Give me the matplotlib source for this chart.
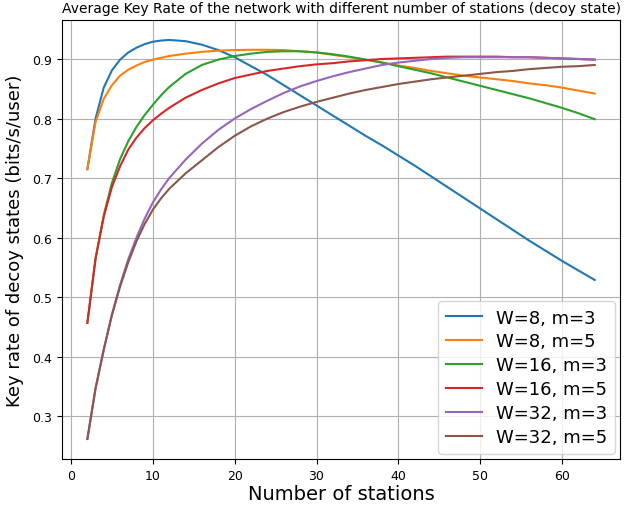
import matplotlib
matplotlib.use("Agg")
import matplotlib.pyplot as plt

stations = [2, 3, 4, 5, 6, 7, 8, 9, 10, 11, 12, 14, 16, 18, 20, 22, 24, 26, 28,
            30, 32, 34, 36, 38, 40, 42, 44, 46, 48, 50, 52, 54, 56, 58, 60, 62, 64]

w8_m3 = [0.715, 0.800, 0.852, 0.881, 0.899, 0.911, 0.919, 0.925, 0.929, 0.931,
         0.932, 0.930, 0.924, 0.915, 0.903, 0.888, 0.873, 0.856, 0.839,
         0.822, 0.805, 0.788, 0.771, 0.755, 0.738, 0.721, 0.703, 0.685, 0.667,
         0.649, 0.631, 0.613, 0.595, 0.578, 0.561, 0.545, 0.529]
w8_m5 = [0.715, 0.794, 0.833, 0.856, 0.872, 0.882, 0.889, 0.895, 0.899, 0.902,
         0.905, 0.909, 0.912, 0.914, 0.915, 0.9155, 0.9155, 0.915, 0.913,
         0.911, 0.907, 0.903, 0.899, 0.894, 0.889, 0.885, 0.880, 0.876, 0.872,
         0.869, 0.866, 0.863, 0.859, 0.856, 0.852, 0.847, 0.842]
w16_m3 = [0.457, 0.565, 0.638, 0.692, 0.732, 0.762, 0.786, 0.806, 0.823, 0.839,
          0.853, 0.875, 0.890, 0.899, 0.905, 0.909, 0.912, 0.913, 0.913,
          0.911, 0.908, 0.904, 0.899, 0.894, 0.888, 0.882, 0.876, 0.869, 0.862,
          0.855, 0.848, 0.841, 0.834, 0.826, 0.818, 0.809, 0.799]
w16_m5 = [0.457, 0.565, 0.635, 0.685, 0.720, 0.748, 0.768, 0.784, 0.797, 0.808,
          0.818, 0.835, 0.848, 0.859, 0.868, 0.874, 0.880, 0.884, 0.888,
          0.891, 0.893, 0.896, 0.898, 0.900, 0.901, 0.902, 0.903, 0.904, 0.904,
          0.904, 0.904, 0.903, 0.903, 0.902, 0.901, 0.900, 0.899]
w32_m3 = [0.262, 0.347, 0.412, 0.471, 0.521, 0.564, 0.600, 0.632, 0.659, 0.681,
          0.700, 0.731, 0.758, 0.781, 0.800, 0.816, 0.830, 0.843, 0.854,
          0.863, 0.871, 0.878, 0.884, 0.890, 0.894, 0.897, 0.900, 0.902, 0.903,
          0.903, 0.903, 0.903, 0.903, 0.902, 0.901, 0.900, 0.899]
w32_m5 = [0.262, 0.347, 0.412, 0.470, 0.518, 0.559, 0.594, 0.623, 0.647, 0.666,
          0.682, 0.708, 0.730, 0.752, 0.771, 0.787, 0.800, 0.811, 0.820,
          0.828, 0.835, 0.842, 0.848, 0.853, 0.858, 0.862, 0.866, 0.869, 0.872,
          0.875, 0.878, 0.880, 0.883, 0.885, 0.887, 0.888, 0.890]

series = [w8_m3, w8_m5, w16_m3, w16_m5, w32_m3, w32_m5]
labels = ["W=8, m=3", "W=8, m=5", "W=16, m=3", "W=16, m=5", "W=32, m=3", "W=32, m=5"]

fig = plt.figure(figsize=(6.36, 5.06), dpi=100)
ax = fig.add_axes([0.0975, 0.091, 0.8775, 0.8675])

for vals, lab in zip(series, labels):
    ax.plot(stations, vals, label=lab, linewidth=1.5)

ax.grid(True)
ax.tick_params(labelsize=9)
ax.set_title("Average Key Rate of the network with different number of stations (decoy state)",
             fontsize=10)
ax.set_xlabel("Number of stations", fontsize=14, labelpad=2)
ax.set_ylabel("Key rate of decoy states (bits/s/user)", fontsize=13)
ax.yaxis.set_label_coords(-0.068, 0.5)
ax.legend(loc="lower right", fontsize=13, labelspacing=0.33, borderaxespad=0.3)

fig.savefig("out.png", dpi=100)
